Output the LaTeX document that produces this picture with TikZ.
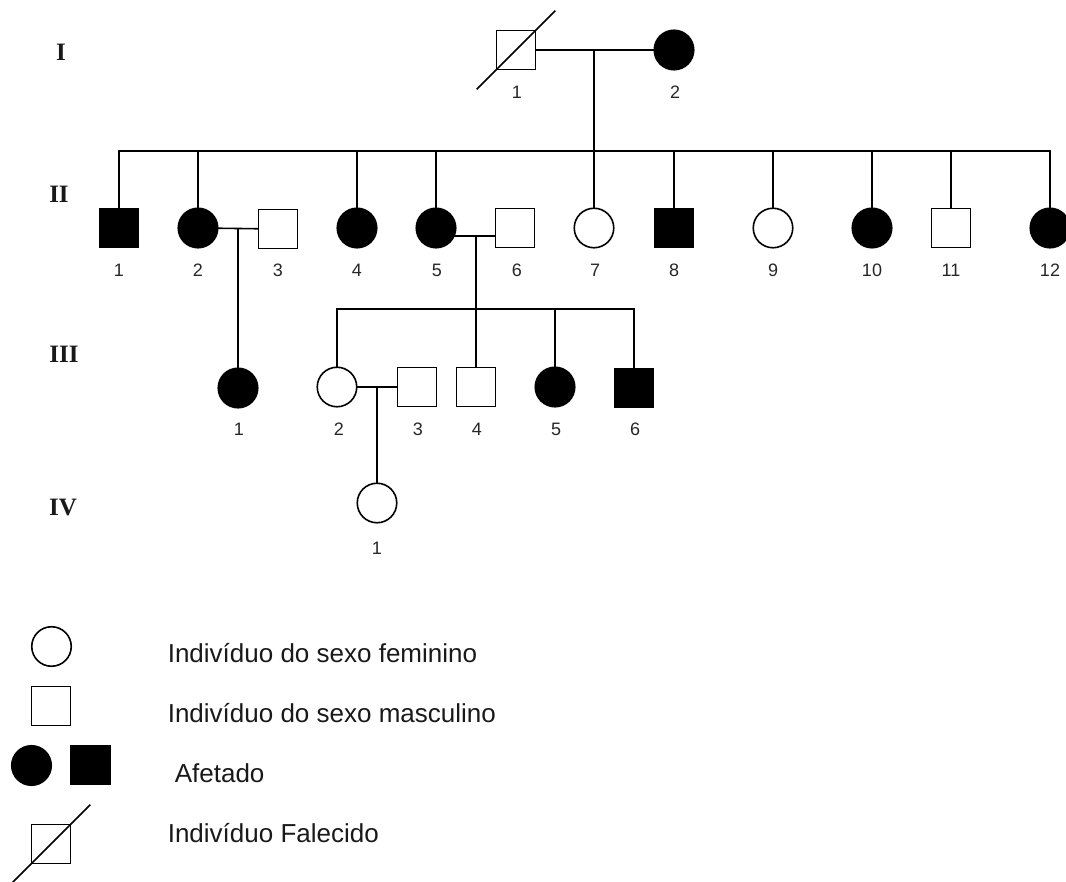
\documentclass[tikz,border=0pt]{standalone}
\usepackage{fontspec}
\setmainfont{Liberation Sans}
\newfontfamily\genfont{Liberation Serif}
\begin{document}
\begin{tikzpicture}[x=1pt,y=-1pt,
  line width=1.6pt,
  person/.style={draw=black,line width=1.6pt,inner sep=0pt,outer sep=0pt},
  fem/.style={person,circle,minimum size=39.5pt},
  mal/.style={person,rectangle,minimum size=39pt},
  aff/.style={fill=black},
  num/.style={inner sep=0pt,font=\fontsize{18}{20}\selectfont,text=black!85},
  gen/.style={inner sep=0pt,font=\fontsize{25}{28}\genfont\bfseries,text=black!90},
  legtext/.style={inner sep=0pt,anchor=base west,font=\fontsize{26}{30}\selectfont,text=black!90},
  deadslash/.style={shorten <=-28pt,shorten >=-28pt}]
\useasboundingbox (0,0) rectangle (1066,882);

% generation labels
\node[gen] (gI) at (61,52) {I};
\node[gen] (gII) at (59,194) {II};
\node[gen] (gIII) at (64,354) {III};
\node[gen] (gIV) at (63,508) {IV};

% generation I
\node[mal] (I1) at (516,50) {};
\draw[deadslash] (I1.south west) -- (I1.north east);
\node[fem,aff] (I2) at (674,50) {};
\node[num] (nI1) at (517,92) {1};
\node[num] (nI2) at (675,92) {2};
\draw (I1) -- (I2);
\coordinate (mI) at (594,50);
\coordinate (sII) at (594,151);

% generation II
\node[mal,aff] (II1) at (119,228) {};
\node[fem,aff] (II2) at (198,228) {};
\node[mal] (II3) at (278,229) {};
\node[fem,aff] (II4) at (357,228) {};
\node[fem,aff] (II5) at (436,228) {};
\node[mal] (II6) at (515,228) {};
\node[fem] (II7) at (594,228) {};
\node[mal,aff] (II8) at (674,228) {};
\node[fem] (II9) at (773,228) {};
\node[fem,aff] (II10) at (872,228) {};
\node[mal] (II11) at (951,228) {};
\node[fem,aff] (II12) at (1050,228) {};
\foreach \n/\x in {1/119,2/198,3/278,4/357,5/437,6/517,7/595,8/674,9/773,10/872,11/951,12/1050}
  \node[num] (nII\n) at (\x,270) {\n};

\draw (mI) -- (II7.north);
\draw (II1.north) |- (sII) -| (II12.north);
\foreach \k in {2,4,5,8,9,10,11}
  \draw (II\k.north) -- (II\k.north |- sII);

% marriages in II
\draw (II2) -- (II3);
\coordinate (m23) at (238,228);
\draw (II5.-23) -- (II6.west |- II5.-23);
\coordinate (m56) at (476,236);
\coordinate (sIII) at (476,309);

% generation III
\node[fem,aff] (III1) at (238,388) {};
\node[fem] (III2) at (337,387) {};
\node[mal] (III3) at (417,387) {};
\node[mal] (III4) at (476,387) {};
\node[fem,aff] (III5) at (555,387) {};
\node[mal,aff] (III6) at (634,388) {};
\foreach \n/\x in {1/239,2/339,3/418,4/477,5/556,6/635}
  \node[num] (nIII\n) at (\x,429) {\n};

\draw (m23) -- (III1.north);
\draw (m56) -- (III4.north);
\draw (III2.north) |- (sIII) -| (III6.north);
\draw (III5.north) -- (III5.north |- sIII);

% marriage in III
\draw (III2) -- (III3);
\coordinate (mIII) at (377,387);

% generation IV
\node[fem] (IV1) at (377,503) {};
\node[num] (nIV1) at (377,548) {1};
\draw (mIII) -- (IV1.north);

% legend
\node[fem] (LF) at (51.5,646.5) {};
\node[mal] (LM) at (51,706) {};
\node[fem,aff] (LAF) at (31.5,765.5) {};
\node[mal,aff] (LAM) at (90.5,765) {};
\node[mal] (LD) at (51,844) {};
\draw[deadslash] (LD.south west) -- (LD.north east);
\node[legtext] (tF) at (167,662) {Indivíduo do sexo feminino};
\node[legtext] (tM) at (167,722) {Indivíduo do sexo masculino};
\node[legtext] (tA) at (174,782) {Afetado};
\node[legtext] (tD) at (167,842) {Indivíduo Falecido};
\end{tikzpicture}
\end{document}
